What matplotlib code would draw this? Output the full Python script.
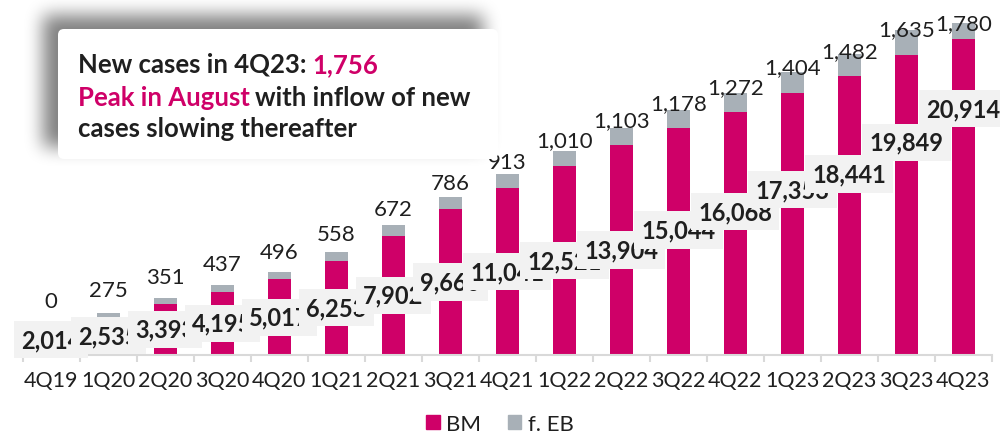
import numpy as np
import matplotlib
matplotlib.use('Agg')
import matplotlib.pyplot as plt
from matplotlib.patches import FancyBboxPatch, Patch

quarters = ['4Q19', '1Q20', '2Q20', '3Q20', '4Q20', '1Q21', '2Q21', '3Q21', '4Q21',
            '1Q22', '2Q22', '3Q22', '4Q22', '1Q23', '2Q23', '3Q23', '4Q23']
bm = [2014, 2535, 3393, 4195, 5017, 6253, 7902, 9660, 11041,
      12521, 13904, 15044, 16068, 17353, 18441, 19849, 20914]
feb = [0, 275, 351, 437, 496, 558, 672, 786, 913,
       1010, 1103, 1178, 1272, 1404, 1482, 1635, 1780]

# BM label sits mid-bar, except the last ones which were moved up by hand
bm_label_pos = [0.5] * 11 + [0.55, 0.59, 0.63, 0.65, 0.71, 0.78]

MAGENTA = '#CF0068'
GREY = '#A8B0B7'
TXT = '#1f1f1f'

plt.rcParams['font.family'] = ['Lato', 'DejaVu Sans']

W, H = 1000, 435
fig = plt.figure(figsize=(W / 100, H / 100), dpi=100)
ax = fig.add_axes([0.0227, 0.1816, 0.9693, 0.764])
x = np.arange(len(quarters))
ax.bar(x, bm, width=0.41, color=MAGENTA, zorder=2)
ax.bar(x, feb, bottom=bm, width=0.41, color=GREY, zorder=2)
ax.set_xlim(-0.5, len(quarters) - 0.5)
ax.set_ylim(0, 22000)
ax.set_yticks([])
for s in ['left', 'right', 'top']:
    ax.spines[s].set_visible(False)
ax.spines['bottom'].set_color('#D9D9D9')
ax.spines['bottom'].set_linewidth(1.5)
ax.set_xticks(x, quarters, fontsize=15.5)
ax.tick_params(axis='x', which='major', length=0, pad=11, labelcolor=TXT)
ax.set_xticks(np.arange(-0.5, len(quarters)), minor=True)
ax.tick_params(axis='x', which='minor', length=5, width=1.5, color='#D9D9D9')

# BM labels in grey boxes, later ones overlap earlier ones
for i, (v, p) in enumerate(zip(bm, bm_label_pos)):
    ax.text(i, v * p, f'{v:,}', ha='center', va='center', fontsize=17,
            fontweight='bold', color=TXT, zorder=3 + i * 0.01, clip_on=False,
            bbox=dict(boxstyle='square,pad=0.3', fc='#F2F2F2', ec='none'))

# f. EB labels sit on a secondary scale (as in the source chart)
ax2 = ax.twinx()
ax2.set_ylim(-1856, 21954)
ax2.axis('off')
top = ax2.get_ylim()[1]
for i, (b, f) in enumerate(zip(bm, feb)):
    ax2.text(i, min(b + f, top), f'{f:,}', ha='center', va='center',
             fontsize=16, color=TXT, clip_on=False)

fig.legend(handles=[Patch(color=MAGENTA, label='BM'), Patch(color=GREY, label='f. EB')],
           loc='center', bbox_to_anchor=(0.5, 0.024), ncol=2, frameon=False,
           fontsize=16, handlelength=0.6, handleheight=0.6, handletextpad=0.3,
           columnspacing=1.2, labelcolor=TXT)

# callout box with soft shadow, drawn in pixel coords on top
ov = fig.add_axes([0, 0, 1, 1], zorder=10)
ov.set_xlim(0, W)
ov.set_ylim(H, 0)
ov.axis('off')

bx, by, bw, bh = 58, 30, 440, 130
yy, xx = np.mgrid[0:H, 0:W]
shadow = ((xx >= bx - 15) & (xx < bx + bw - 15) &
          (yy >= by - 14) & (yy < by + bh - 12)).astype(float)
k = np.ones(17) / 17
for _ in range(3):
    shadow = np.apply_along_axis(lambda m: np.convolve(m, k, mode='same'), 0, shadow)
    shadow = np.apply_along_axis(lambda m: np.convolve(m, k, mode='same'), 1, shadow)
rgba = np.zeros((H, W, 4))
rgba[..., 3] = 0.5 * shadow
ov.imshow(rgba, extent=(0, W, H, 0), aspect='auto', interpolation='bilinear', zorder=1)
ov.add_patch(FancyBboxPatch((bx, by), bw, bh, boxstyle='round,pad=0,rounding_size=6',
                            fc='white', ec='none', zorder=2))

fs = 18.5
t1 = ov.text(78, 73, 'New cases in 4Q23:', fontsize=fs, fontweight='bold',
             color=TXT, va='baseline', zorder=3)
ov.annotate('1,756', xy=(1, 0), xycoords=t1, xytext=(4, 0), textcoords='offset points',
            fontsize=fs, fontweight='bold', color=MAGENTA, va='bottom', zorder=3)
t2 = ov.text(78, 106, 'Peak in August', fontsize=fs, fontweight='bold',
             color=MAGENTA, va='baseline', zorder=3)
ov.annotate('with inflow of new', xy=(1, 0), xycoords=t2, xytext=(4, 0),
            textcoords='offset points', fontsize=fs, fontweight='bold',
            color=TXT, va='bottom', zorder=3)
ov.text(78, 137, 'cases slowing thereafter', fontsize=fs, fontweight='bold',
        color=TXT, va='baseline', zorder=3)

fig.savefig('out.png', dpi=100)
